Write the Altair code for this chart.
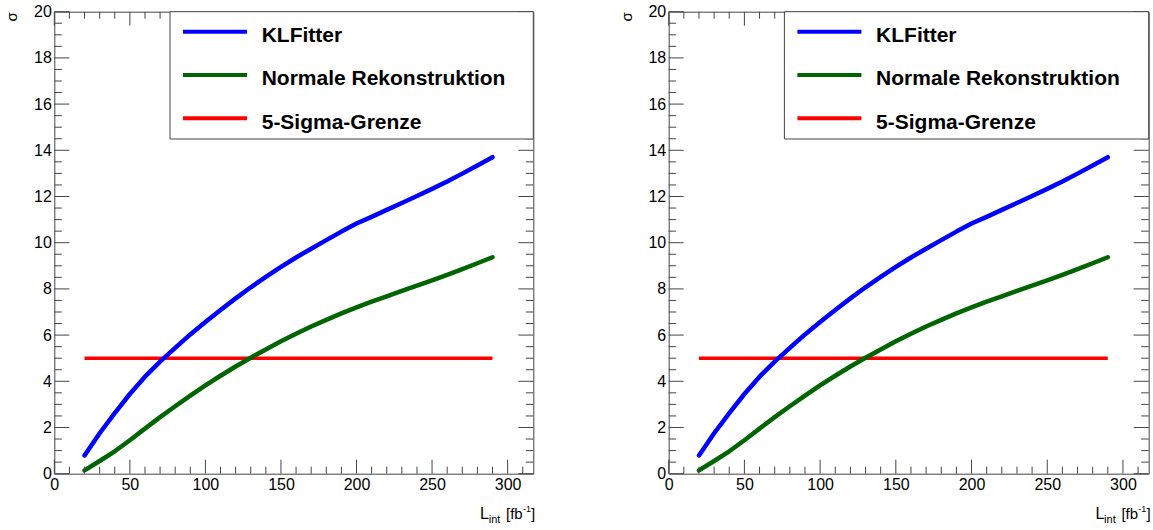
import altair as alt
import pandas as pd

# Integrated luminosity scan points in fb^-1
lumi = [20, 30, 40, 50, 60, 70, 80, 90, 100, 110, 120, 130, 140, 150,
        160, 170, 180, 190, 200, 210, 220, 230, 240, 250, 260, 270, 280, 290]
# Expected significance with the kinematic fit
sig_klfitter = [0.79, 1.75, 2.62, 3.45, 4.20, 4.85, 5.45, 6.03, 6.57, 7.09,
                7.59, 8.07, 8.52, 8.95, 9.36, 9.74, 10.11, 10.48, 10.83, 11.12,
                11.42, 11.72, 12.02, 12.33, 12.65, 12.99, 13.34, 13.70]
# Expected significance with the standard reconstruction
sig_normal = [0.14, 0.55, 0.97, 1.45, 1.95, 2.45, 2.92, 3.38, 3.82, 4.24,
              4.64, 5.02, 5.38, 5.73, 6.06, 6.37, 6.66, 6.94, 7.20, 7.45,
              7.68, 7.91, 8.14, 8.37, 8.61, 8.86, 9.11, 9.37]
# Discovery threshold
limit_lumi = [20, 290]
limit_sigma = [5, 5]

series_names = ["KLFitter", "Normale Rekonstruktion", "5-Sigma-Grenze"]
series_colors = ["#0000ff", "#006400", "#ff0000"]

x_domain = [0, 317]
y_domain = [0, 20]
x_major = [0, 50, 100, 150, 200, 250, 300]
x_minor = [v for v in range(10, 320, 10) if v % 50 != 0]
y_major = [0, 2, 4, 6, 8, 10, 12, 14, 16, 18, 20]
y_minor = [v / 2 for v in range(1, 40) if v % 4 != 0]

FONT = "Liberation Sans"
FRAME = "#444444"

curve_df = pd.DataFrame({
    "lumi": lumi * 2,
    "sigma": sig_klfitter + sig_normal,
    "series": [series_names[0]] * len(lumi) + [series_names[1]] * len(lumi),
})
limit_df = pd.DataFrame({"lumi": limit_lumi, "sigma": limit_sigma,
                         "series": [series_names[2]] * len(limit_lumi)})
one_row = pd.DataFrame({"k": [0]})

x_axis = alt.Axis(
    values=x_major, ticks=False, tickSize=0, domain=False, grid=False,
    labelFont=FONT, labelFontSize=16, labelColor="black", labelPadding=3,
    labelFlush=False, labelOverlap=False, title=None)
y_axis = alt.Axis(
    values=y_major, ticks=False, tickSize=0, domain=False, grid=False,
    labelFont=FONT, labelFontSize=16, labelColor="black", labelPadding=3,
    labelOverlap=False, title="σ", titleFont=FONT, titleFontSize=15,
    titleFontWeight="normal", titleColor="black", titleAngle=270,
    titleX=-37.5, titleY=0, titleAlign="right", titleBaseline="alphabetic")


def panel(w, h):
    xs = alt.Scale(domain=x_domain, nice=False, zero=False)
    ys = alt.Scale(domain=y_domain, nice=False, zero=False)
    color = alt.Color("series:N", legend=None,
                      scale=alt.Scale(domain=series_names, range=series_colors))

    layers = []
    layers.append(alt.Chart(limit_df).mark_line(strokeWidth=3.5).encode(
        x=alt.X("lumi:Q", scale=xs, axis=x_axis),
        y=alt.Y("sigma:Q", scale=ys, axis=y_axis),
        color=color,
    ))
    layers.append(alt.Chart(curve_df).mark_line(
        strokeWidth=4.5, strokeJoin="round", strokeCap="round").encode(
        x=alt.X("lumi:Q", scale=xs, axis=x_axis),
        y=alt.Y("sigma:Q", scale=ys, axis=y_axis),
        color=color,
    ))

    # inward ticks on all four sides of the frame
    for vals, length in ((y_major, 15), (y_minor, 7.5)):
        base = alt.Chart(pd.DataFrame({"sigma": vals})).mark_rule(color=FRAME, strokeWidth=1)
        yenc = alt.Y("sigma:Q", scale=ys, axis=y_axis)
        layers.append(base.encode(y=yenc, x=alt.value(0), x2=alt.value(length)))
        layers.append(base.encode(y=yenc, x=alt.value(w - length), x2=alt.value(w)))
    for vals, length in ((x_major, 14), (x_minor, 7)):
        base = alt.Chart(pd.DataFrame({"lumi": vals})).mark_rule(color=FRAME, strokeWidth=1)
        xenc = alt.X("lumi:Q", scale=xs, axis=x_axis)
        layers.append(base.encode(x=xenc, y=alt.value(h - length), y2=alt.value(h)))
        layers.append(base.encode(x=xenc, y=alt.value(0), y2=alt.value(length)))

    # legend box
    layers.append(alt.Chart(one_row).mark_rect(
        fill="white", stroke=FRAME, strokeWidth=1).encode(
        x=alt.value(115.7), x2=alt.value(w), y=alt.value(0), y2=alt.value(127.3)))
    for i, (name, col) in enumerate(zip(series_names, series_colors)):
        row_y = 20 + 43.3 * i
        layers.append(alt.Chart(one_row).mark_rule(color=col, strokeWidth=4).encode(
            x=alt.value(128.7), x2=alt.value(192.7), y=alt.value(row_y)))
        layers.append(alt.Chart(one_row).mark_text(
            text=name, font=FONT, fontSize=21, fontWeight="bold", color="black",
            align="left", baseline="alphabetic").encode(
            x=alt.value(207.4), y=alt.value(row_y + 10.5)))

    # x-axis title  L_int [fb^-1]
    pieces = [
        ("L", 16, w - 53.3, h + 45),
        ("int", 11, w - 44.6, h + 49),
        ("[fb", 15, w - 27.3, h + 45),
        ("-1", 9, w - 10.4, h + 38.5),
        ("]", 15, w - 2.3, h + 45),
    ]
    for txt, size, px, py in pieces:
        layers.append(alt.Chart(one_row).mark_text(
            text=txt, font=FONT, fontSize=size, color="black",
            align="left", baseline="alphabetic").encode(
            x=alt.value(px), y=alt.value(py)))

    return alt.layer(*layers).properties(width=w, height=h)


chart = alt.hconcat(panel(479, 462), panel(480, 462), spacing=82.4).properties(
    padding={"left": 4.3, "top": 2.7, "right": 0, "bottom": 0},
    background="white",
).configure_view(stroke=FRAME, strokeWidth=1)

chart.save("out.html", embed_options={"renderer": "svg", "actions": False})
